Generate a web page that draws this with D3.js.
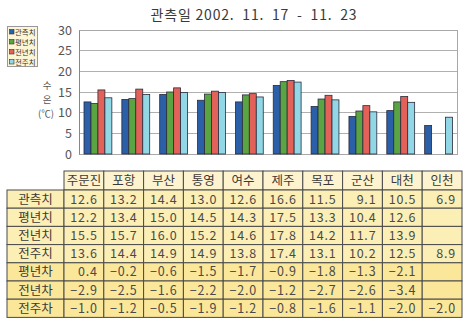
<!DOCTYPE html>
<html><head><meta charset="utf-8">
<script src="https://cdn.jsdelivr.net/npm/d3@7"></script>
<style>
html,body{margin:0;padding:0;background:#fff;}
text{font-family:"Noto Sans CJK KR","Noto Sans",sans-serif;}
</style></head>
<body><svg id="c" width="472" height="322"></svg>
<script>
const categories = ["주문진","포항","부산","통영","여수","제주","목포","군산","대천","인천"];
const seriesNames = ["관측치","평년치","전년치","전주치"];
const obs   = [12.6,13.2,14.4,13.0,12.6,16.6,11.5,9.1,10.5,6.9];
const norm  = [12.2,13.4,15.0,14.5,14.3,17.5,13.3,10.4,12.6,null];
const lastY = [15.5,15.7,16.0,15.2,14.6,17.8,14.2,11.7,13.9,null];
const lastW = [13.6,14.4,14.9,14.9,13.8,17.4,13.1,10.2,12.5,8.9];
const diffNorm  = [0.4,-0.2,-0.6,-1.5,-1.7,-0.9,-1.8,-1.3,-2.1,null];
const diffLastY = [-2.9,-2.5,-1.6,-2.2,-2.0,-1.2,-2.7,-2.6,-3.4,null];
const diffLastW = [-1.0,-1.2,-0.5,-1.9,-1.2,-0.8,-1.6,-1.1,-2.0,-2.0];
const diffNames = ["평년차","전년차","전주차"];
const yTicks = [0,5,10,15,20,25,30];
const titleText = "관측일 2002.  11.  17  -  11.  23";

const colors = ["#2b5fa8","#5aa444","#e2625a","#92d7e6"];
const svg = d3.select("#c");

// title
svg.append("text").attr("x",254).attr("y",20).attr("text-anchor","middle")
  .attr("font-size",14).attr("fill","#3a3a3a").attr("letter-spacing","0.8")
  .attr("xml:space","preserve").text(titleText);

// scales
const plot = {l:79,r:457.5,t:30,b:154};
const x0 = d3.scaleBand().domain(categories).range([plot.l,plot.r]).padding(0);
const x1 = d3.scaleBand().domain(seriesNames).range([5,x0.bandwidth()-5]).padding(0);
const y = d3.scaleLinear().domain([0,30]).range([plot.b,plot.t]);

// gridlines
svg.append("g").selectAll("line").data(yTicks.slice(1)).join("line")
  .attr("x1",plot.l).attr("x2",plot.r).attr("y1",d=>y(d)).attr("y2",d=>y(d))
  .attr("stroke","#b0b0b0").attr("stroke-width",1).attr("shape-rendering","crispEdges");
svg.append("rect").attr("x",plot.l).attr("y",plot.t).attr("width",plot.r-plot.l).attr("height",plot.b-plot.t)
  .attr("fill","none").attr("stroke","#a8a8a8").attr("shape-rendering","crispEdges");

// y axis
const yAxis = d3.axisLeft(y).tickValues(yTicks).tickSize(0).tickPadding(7);
const ga = svg.append("g").attr("transform",`translate(${plot.l},0)`).call(yAxis);
ga.select(".domain").attr("stroke","#888");
ga.selectAll("text").attr("font-size",12.5).attr("fill","#555").attr("font-family","Liberation Sans,Arial,sans-serif");

// y label
const ylab = svg.append("g").attr("font-size",9.5).attr("fill","#555").attr("text-anchor","middle");
ylab.append("text").attr("x",47).attr("y",89).text("수");
ylab.append("text").attr("x",47).attr("y",103).text("온");
ylab.append("text").attr("x",46).attr("y",117).text("(℃)");

// bars
const seriesData = [obs,norm,lastY,lastW];
const barData = [];
categories.forEach((c,i)=>{
  seriesNames.forEach((s,j)=>{
    const v = seriesData[j][i];
    if(v!=null) barData.push({c,s,j,v});
  });
});
svg.append("g").selectAll("rect").data(barData).join("rect")
  .attr("x",d=>x0(d.c)+x1(d.s)).attr("width",x1.bandwidth())
  .attr("y",d=>y(d.v)).attr("height",d=>y(0)-y(d.v))
  .attr("fill",d=>colors[d.j]).attr("stroke","#2a2a3a").attr("stroke-width",0.8);

// legend
const lg = svg.append("g");
lg.append("rect").attr("x",7.5).attr("y",26.5).attr("width",30).attr("height",40)
  .attr("fill","#fdf6d6").attr("stroke","#999");
seriesNames.forEach((s,i)=>{
  const yy = 32 + i*10;
  lg.append("rect").attr("x",9.5).attr("y",yy-2.5).attr("width",4.5).attr("height",4.5)
    .attr("fill",colors[i]).attr("stroke","#333").attr("stroke-width",0.6);
  lg.append("text").attr("x",15).attr("y",yy+2.8).attr("font-size",7)
    .attr("textLength",20.5).attr("lengthAdjust","spacingAndGlyphs").attr("fill","#333").text(s);
});

// table
const tbl = {l:7,labelR:64,r:462,t:171,headH:19,rowH:18.2};
const cx = d3.scaleBand().domain(categories).range([tbl.labelR,tbl.r]).padding(0);
const rows = [
  {name:seriesNames[0],vals:obs,diff:false},
  {name:seriesNames[1],vals:norm,diff:false},
  {name:seriesNames[2],vals:lastY,diff:false},
  {name:seriesNames[3],vals:lastW,diff:false},
  {name:diffNames[0],vals:diffNorm,diff:true},
  {name:diffNames[1],vals:diffLastY,diff:true},
  {name:diffNames[2],vals:diffLastW,diff:true}
];
const tg = svg.append("g");
// header
categories.forEach(c=>{
  tg.append("rect").attr("x",cx(c)).attr("y",tbl.t).attr("width",cx.bandwidth()).attr("height",tbl.headH)
    .attr("fill","#fdf4cf").attr("stroke","#4a4a4a").attr("stroke-width",1);
  tg.append("text").attr("x",cx(c)+cx.bandwidth()/2).attr("y",tbl.t+tbl.headH/2+4.5)
    .attr("text-anchor","middle").attr("font-size",12.5).attr("fill","#3a3a3a").text(c);
});
const fmt = v => v==null ? "" : (v<0 ? "−"+Math.abs(v).toFixed(1) : v.toFixed(1));
rows.forEach((r,i)=>{
  const yy = tbl.t+tbl.headH+i*tbl.rowH;
  const fill = r.diff ? "#fbe79a" : "#fcefb6";
  tg.append("rect").attr("x",tbl.l).attr("y",yy).attr("width",tbl.labelR-tbl.l).attr("height",tbl.rowH)
    .attr("fill",fill).attr("stroke","#4a4a4a").attr("stroke-width",1);
  tg.append("text").attr("x",(tbl.l+tbl.labelR)/2).attr("y",yy+tbl.rowH/2+4.5)
    .attr("text-anchor","middle").attr("font-size",12.5).attr("fill","#3a3a3a").text(r.name);
  categories.forEach((c,k)=>{
    tg.append("rect").attr("x",cx(c)).attr("y",yy).attr("width",cx.bandwidth()).attr("height",tbl.rowH)
      .attr("fill",fill).attr("stroke","#4a4a4a").attr("stroke-width",1);
    tg.append("text").attr("x",cx(c)+cx.bandwidth()-6).attr("y",yy+tbl.rowH/2+4.5)
      .attr("text-anchor","end").attr("font-size",12.5).attr("fill","#4a4a4a")
      .attr("font-family","Liberation Sans,Arial,sans-serif").attr("letter-spacing","0.8").text(fmt(r.vals[k]));
  });
});
</script></body></html>
